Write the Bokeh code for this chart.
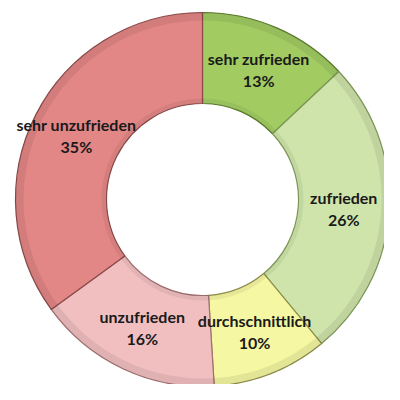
import math

from bokeh.core.properties import value
from bokeh.embed import file_html
from bokeh.models import ColumnDataSource, Range1d
from bokeh.plotting import figure
from bokeh.resources import INLINE

# Daten
kategorien = ["sehr zufrieden", "zufrieden", "durchschnittlich", "unzufrieden", "sehr unzufrieden"]
anteile = [13, 26, 10, 16, 35]
farben = ["#a2cc62", "#cfe4ab", "#f5f7a2", "#f1bfc0", "#e28686"]
kanten = ["#5c7a2e", "#7f9a58", "#8f8f4a", "#a07070", "#8a4a4a"]

r_innen, r_aussen = 95, 188

# Winkel: von oben im Uhrzeigersinn
gesamt = sum(anteile)
start, ende, mitte = [], [], []
kum = 0
for a in anteile:
    s = kum / gesamt
    kum += a
    e = kum / gesamt
    start.append(math.pi / 2 - s * 2 * math.pi)
    ende.append(math.pi / 2 - e * 2 * math.pi)
    mitte.append(math.pi / 2 - (s + e) / 2 * 2 * math.pi)

r_label = (r_innen + r_aussen) / 2
src = ColumnDataSource(dict(
    kat=kategorien,
    txt=[f"{a}%" for a in anteile],
    start=start, ende=ende, farbe=farben, kante=kanten,
    lx=[r_label * math.cos(m) for m in mitte],
    ly=[r_label * math.sin(m) for m in mitte],
))

p = figure(width=384, height=384, output_backend="svg", toolbar_location=None,
           x_range=Range1d(-202, 182), y_range=Range1d(-185, 199), min_border=0)
p.axis.visible = False
p.grid.visible = False
p.outline_line_color = None

# Segmente
p.annular_wedge(x=0, y=0, inner_radius=r_innen, outer_radius=r_aussen,
                start_angle="start", end_angle="ende", direction="clock",
                fill_color="farbe", line_color="white", line_width=4, source=src)
p.annular_wedge(x=0, y=0, inner_radius=r_innen + 1, outer_radius=r_aussen - 1,
                start_angle="start", end_angle="ende", direction="clock",
                fill_color="farbe", line_color="kante", line_width=1.2, source=src)

# leichte Schattierung am Rand (3D-Eindruck)
p.annular_wedge(x=0, y=0, inner_radius=r_aussen - 9, outer_radius=r_aussen - 1,
                start_angle="start", end_angle="ende", direction="clock",
                fill_color="black", fill_alpha=0.07, line_color=None, source=src)
p.annular_wedge(x=0, y=0, inner_radius=r_innen + 1, outer_radius=r_innen + 6,
                start_angle="start", end_angle="ende", direction="clock",
                fill_color="black", fill_alpha=0.06, line_color=None, source=src)

# Beschriftung
p.text(x="lx", y="ly", text="kat", source=src, y_offset=-11,
       text_align="center", text_baseline="middle", text_font=value("Lato"),
       text_font_size="16px", text_font_style="bold", text_color="#1a1a1a")
p.text(x="lx", y="ly", text="txt", source=src, y_offset=11,
       text_align="center", text_baseline="middle", text_font=value("Lato"),
       text_font_size="16px", text_font_style="bold", text_color="#1a1a1a")

open("out.html", "w").write(file_html(p, INLINE))
